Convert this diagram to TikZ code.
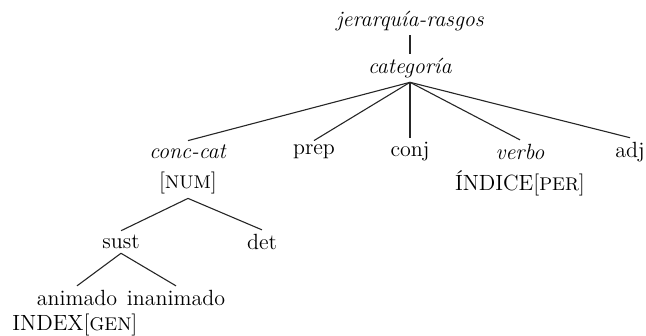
\documentclass[tikz,border=0pt]{standalone}
\begin{document}
\begin{tikzpicture}[x=0.5pt,y=-0.5pt,
  lbl/.style={inner sep=2pt, font=\fontsize{11}{13}\selectfont},
  edge/.style={line width=0.55pt, draw=black!85}]
\newcommand{\featsc}[1]{{\fontsize{9.2}{11}\selectfont #1}}
\useasboundingbox (0,0) rectangle (646,336);
% type hierarchy
\node[lbl] (root) at (410,21) {\textit{jerarqu\'{\i}a-rasgos}};
\node[lbl] (cat) at (410,68) {\textit{categor\'{\i}a}};
\node[lbl] (conc) at (188,152) {\textit{conc-cat}};
\node[lbl] (prep) at (314,152) {prep};
\node[lbl] (conj) at (410,152) {conj};
\node[lbl] (verbo) at (520,152) {\textit{verbo}};
\node[lbl] (adj) at (630,152) {adj};
\node[lbl] (num) at (188,183) {[\featsc{NUM}]};
\node[lbl] (indice) at (520,183) {\'INDICE[\featsc{PER}]};
\node[lbl] (sust) at (121,242) {sust};
\node[lbl] (det) at (262,242) {det};
\node[lbl] (anim) at (77,298) {animado};
\node[lbl] (inan) at (176,298) {inanimado};
\node[lbl,anchor=west] (index) at (8,325) {INDEX[\featsc{GEN}]};
% connectors
\draw[edge] (root) -- (cat);
\foreach \t in {conc,prep,conj,verbo,adj}
  \draw[edge] (cat.south) -- (\t.north);
\draw[edge] (num.south) -- (sust.north);
\draw[edge] (num.south) -- (det.north);
\draw[edge] (sust.south) -- (anim.north);
\draw[edge] (sust.south) -- (inan.north);
\end{tikzpicture}
\end{document}
